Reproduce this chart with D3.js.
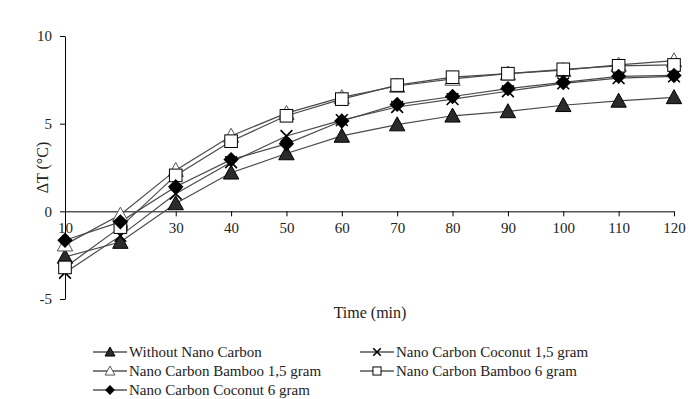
<!DOCTYPE html>
<html>
<head>
<meta charset="utf-8">
<script src="https://cdn.jsdelivr.net/npm/d3@7"></script>
<style>
  body { margin: 0; background: #fff; }
  svg { display: block; font-family: "Liberation Serif", "Times New Roman", serif; }
</style>
</head>
<body>
<div id="chart"></div>
<script>
// time points (min)
const times = [10, 20, 30, 40, 50, 60, 70, 80, 90, 100, 110, 120];

// delta T (°C) per series
const withoutNano = [-2.6, -1.75, 0.45, 2.2, 3.3, 4.3, 4.95, 5.45, 5.7, 6.05, 6.3, 6.5];
const coconut15 = [-3.5, -1.4, 1.0, 2.8, 4.3, 5.2, 5.95, 6.4, 6.85, 7.3, 7.6, 7.7];
const bamboo15 = [-1.9, -0.2, 2.35, 4.3, 5.6, 6.5, 7.15, 7.55, 7.85, 8.05, 8.35, 8.6];
const bamboo6 = [-3.2, -0.9, 2.05, 4.0, 5.45, 6.4, 7.2, 7.65, 7.85, 8.1, 8.3, 8.35];
const coconut6 = [-1.65, -0.6, 1.4, 2.95, 3.85, 5.15, 6.1, 6.55, 7.0, 7.35, 7.7, 7.75];

const seriesNames = [
  "Without Nano Carbon",
  "Nano Carbon Coconut 1,5 gram",
  "Nano Carbon Bamboo 1,5 gram",
  "Nano Carbon Bamboo 6 gram",
  "Nano Carbon Coconut 6 gram"
];
const seriesValues = [withoutNano, coconut15, bamboo15, bamboo6, coconut6];
const seriesMarkers = ["triFilled", "cross", "triOpen", "square", "diamond"];

const xTicks = [10, 20, 30, 40, 50, 60, 70, 80, 90, 100, 110, 120];
const yTicks = [-5, 0, 5, 10];

const width = 693, height = 399;
const svg = d3.select("#chart").append("svg")
  .attr("width", width)
  .attr("height", height);

const x = d3.scaleLinear().domain([10, 120]).range([65, 674]);
const y = d3.scaleLinear().domain([-5, 10]).range([299, 36]);

// axes
const xAxis = svg.append("g")
  .attr("transform", `translate(0,${y(0)})`)
  .call(d3.axisBottom(x).tickValues(xTicks).tickSize(5).tickPadding(6).tickSizeOuter(0));
const yAxis = svg.append("g")
  .attr("transform", `translate(${x(10)},0)`)
  .call(d3.axisLeft(y).tickValues(yTicks).tickSize(5).tickPadding(8).tickSizeOuter(0)
    .tickFormat(d => d < 0 ? "-" + Math.abs(d) : d));

[xAxis, yAxis].forEach(g => {
  g.select(".domain").attr("stroke", "#000").attr("stroke-width", 1);
  g.selectAll(".tick line").attr("stroke", "#000");
  g.selectAll("text")
    .attr("font-family", "Liberation Serif, Times New Roman, serif")
    .attr("font-size", 15)
    .attr("fill", "#222");
});

// axis titles
svg.append("text")
  .attr("x", 370).attr("y", 318)
  .attr("text-anchor", "middle")
  .attr("font-size", 16).attr("fill", "#222")
  .text("Time (min)");
svg.append("text")
  .attr("transform", `translate(48,${y(2.5)}) rotate(-90)`)
  .attr("text-anchor", "middle")
  .attr("font-size", 16).attr("fill", "#222")
  .text("ΔT (°C)");

// marker drawing
function drawMarker(g, type, size) {
  const s = size;
  if (type === "triFilled" || type === "triOpen") {
    g.append("path")
      .attr("d", `M0,${-s * 0.55}L${s * 0.55},${s * 0.45}L${-s * 0.55},${s * 0.45}Z`)
      .attr("fill", type === "triFilled" ? "#2b2b2b" : "#fff")
      .attr("stroke", type === "triFilled" ? "#000" : "#555")
      .attr("stroke-width", 1);
  } else if (type === "square") {
    g.append("rect")
      .attr("x", -s * 0.45).attr("y", -s * 0.45)
      .attr("width", s * 0.9).attr("height", s * 0.9)
      .attr("fill", "#fff").attr("stroke", "#000").attr("stroke-width", 1);
  } else if (type === "diamond") {
    g.append("path")
      .attr("d", `M0,${-s * 0.55}L${s * 0.55},0L0,${s * 0.55}L${-s * 0.55},0Z`)
      .attr("fill", "#000");
  } else if (type === "cross") {
    g.append("path")
      .attr("d", `M${-s * 0.42},${-s * 0.42}L${s * 0.42},${s * 0.42}M${-s * 0.42},${s * 0.42}L${s * 0.42},${-s * 0.42}`)
      .attr("stroke", "#000").attr("stroke-width", 1.6).attr("fill", "none");
  }
}

const line = d3.line().x((d, i) => x(times[i])).y(d => y(d));

// lines first
svg.append("g").selectAll("path")
  .data(seriesValues)
  .join("path")
  .attr("d", d => line(d))
  .attr("fill", "none")
  .attr("stroke", "#4a4a4a")
  .attr("stroke-width", 1.2);

// markers per series
seriesValues.forEach((vals, si) => {
  const g = svg.append("g");
  vals.forEach((v, i) => {
    const m = g.append("g").attr("transform", `translate(${x(times[i])},${y(v)})`);
    drawMarker(m, seriesMarkers[si], 14);
  });
});

// legend
const legendPos = [
  { x: 93, y: 352 }, { x: 360, y: 352 },
  { x: 93, y: 371 }, { x: 360, y: 371 },
  { x: 93, y: 390 }
];
const legend = svg.append("g");
seriesNames.forEach((name, i) => {
  const p = legendPos[i];
  const g = legend.append("g").attr("transform", `translate(${p.x},${p.y})`);
  g.append("line").attr("x1", 0).attr("x2", 34).attr("y1", 0).attr("y2", 0)
    .attr("stroke", "#000").attr("stroke-width", 1);
  const m = g.append("g").attr("transform", "translate(17,0)");
  drawMarker(m, seriesMarkers[i], 9);
  g.append("text")
    .attr("x", 36).attr("y", 5)
    .attr("font-size", 15).attr("fill", "#222")
    .text(name);
});
</script>
</body>
</html>
